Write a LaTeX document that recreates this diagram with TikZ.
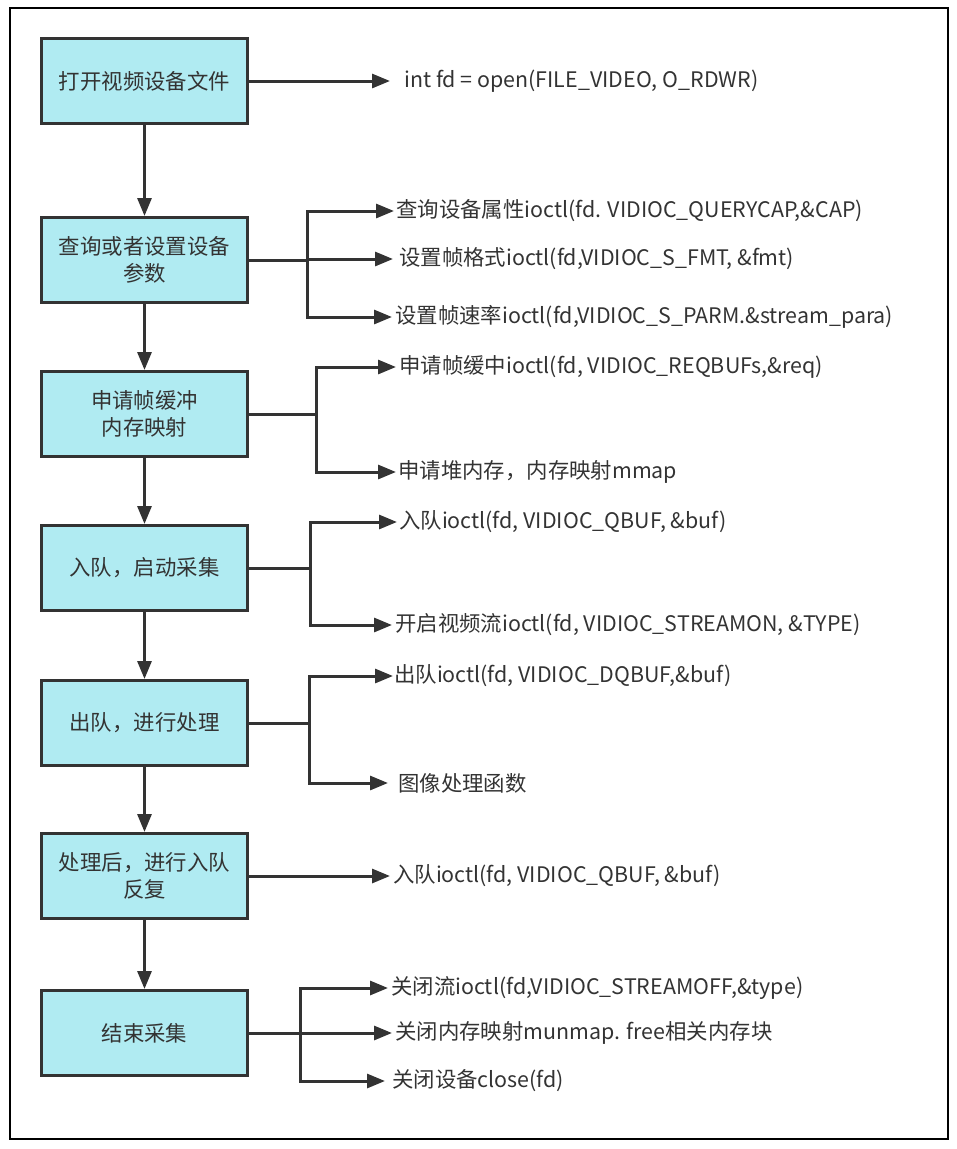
\documentclass[tikz,border=0pt]{standalone}
\usepackage{fontspec}
\setmainfont{Noto Sans CJK SC}
\usetikzlibrary{arrows.meta}
\definecolor{boxfill}{RGB}{176,235,242}
\definecolor{ink}{RGB}{51,51,51}
\newcommand\flowfont{\fontsize{21.4bp}{27bp}\selectfont}

\begin{document}
\begin{tikzpicture}[x=1bp, y=-1bp,
	stepbox/.style={draw=ink, line width=3bp, fill=boxfill, minimum width=205bp, minimum height=85bp, align=center, text=ink, font=\flowfont},
	out/.style={anchor=west, inner ysep=0pt, inner xsep=#1, text=ink, font=\flowfont},
	out/.default=2bp,
	wire/.style={draw=ink, line width=3bp},
	arr/.style={wire, -{Triangle[length=18bp, width=14bp]}}]
		\useasboundingbox (0, 0) rectangle (957, 1149);
		\draw[line width=2bp] (10, 8) rectangle (948, 1139);
		
		% Pasos
		\node[stepbox] (b1) at (144.5, 81) {打开视频设备文件};
		\node[stepbox] (b2) at (144.5, 260) {查询或者设置设备\\参数};
		\node[stepbox] (b3) at (144.5, 414) {申请帧缓冲\\内存映射};
		\node[stepbox] (b4) at (144.5, 568) {入队，启动采集};
		\node[stepbox] (b5) at (144.5, 723) {出队，进行处理};
		\node[stepbox] (b6) at (144.5, 876) {处理后，进行入队\\反复};
		\node[stepbox] (b7) at (144.5, 1033) {结束采集};
		
		% Llamadas
		\node[out=14bp] (o1) at (390, 81) {int fd = open(FILE\_VIDEO, O\_RDWR)};
		\node[out] (o21) at (394, 211) {查询设备属性ioctl(fd. VIDIOC\_QUERYCAP,\&CAP)};
		\node[out=6bp] (o22) at (393, 259) {设置帧格式ioctl(fd,VIDIOC\_S\_FMT, \&fmt)};
		\node[out=3bp] (o23) at (392, 317) {设置帧速率ioctl(fd,VIDIOC\_S\_PARM.\&stream\_para)};
		\node[out=3bp] (o31) at (396, 367) {申请帧缓中ioctl(fd, VIDIOC\_REQBUFs,\&req)};
		\node[out] (o32) at (396, 472) {申请堆内存，内存映射mmap};
		\node[out] (o41) at (397, 522) {入队ioctl(fd, VIDIOC\_QBUF, \&buf)};
		\node[out=3bp] (o42) at (392, 625) {开启视频流ioctl(fd, VIDIOC\_STREAMON, \&TYPE)};
		\node[out=1bp] (o51) at (393, 676) {出队ioctl(fd, VIDIOC\_DQBUF,\&buf)};
		\node[out=10bp] (o52) at (388, 783) {图像处理函数};
		\node[out=3bp] (o6) at (390, 876) {入队ioctl(fd, VIDIOC\_QBUF, \&buf)};
		\node[out=3bp] (o71) at (388, 988) {关闭流ioctl(fd,VIDIOC\_STREAMOFF,\&type)};
		\node[out=3bp] (o72) at (392, 1033) {关闭内存映射munmap. free相关内存块};
		\node[out=7bp] (o73) at (385, 1081) {关闭设备close(fd)};
		
		% Flechas
		\foreach \a/\b in {b1/b2, b2/b3, b3/b4, b4/b5, b5/b6, b6/b7}
			\draw[arr] (\a) -- (\b);
		\draw[arr] (b1) -- (o1);
		\draw[arr] (b6) -- (o6);
		
		% Ramas
		\coordinate (j2) at (307, 260);
		\coordinate (j3) at (316, 414);
		\coordinate (j4) at (310, 568);
		\coordinate (j5) at (309, 723);
		\coordinate (j7) at (300, 1033);
		\foreach \j in {2, 3, 4, 5, 7}
			\draw[wire] (b\j.east) -- (j\j);
		\foreach \j/\o in {2/o21, 2/o22, 2/o23, 3/o31, 3/o32, 4/o41, 4/o42, 5/o51, 5/o52, 7/o71, 7/o72, 7/o73}
			\draw[arr] (j\j) |- (\o.west);
	\end{tikzpicture}
\end{document}
